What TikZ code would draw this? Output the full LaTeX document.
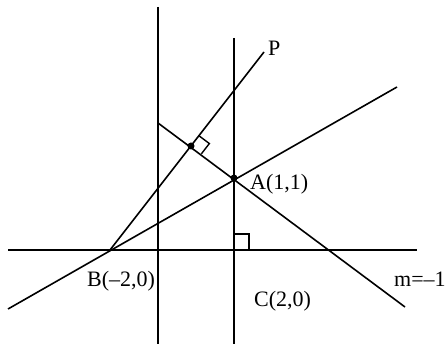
\documentclass[tikz,border=0pt]{standalone}
\usepackage{fontspec}
\setmainfont{Liberation Serif}
\usetikzlibrary{calc}
\begin{document}
\begin{tikzpicture}[x=1pt,y=-1pt,
  ln/.style={line width=1.6pt,line cap=butt},
  lbl/.style={inner sep=0pt,anchor=base west,font=\fontsize{22}{26}\selectfont},
  dotnode/.style={circle,fill=black,inner sep=0pt,minimum size=7pt}]
\useasboundingbox (0,0) rectangle (447,344);
\clip (0,0) rectangle (447,344);
% axes and vertical lines
\coordinate (xl) at (8,250);
\coordinate (xr) at (417,250);
\coordinate (v1t) at (158,7);
\coordinate (v1b) at (158,344);
\coordinate (v2t) at (234,38);
\coordinate (v2b) at (234,344);
% points
\coordinate (A) at (234,178);
\coordinate (B) at (110,250);
\coordinate (C) at (234,250);
\coordinate (F) at (191,146);
\coordinate (Pend) at (264,52);
\coordinate (L1s) at (8,309);
\coordinate (L1e) at (397,87);
\coordinate (L2s) at (158,123);
\coordinate (L2e) at (405,307);
\draw[ln] (xl) -- (xr);
\draw[ln] (v1t) -- (v1b);
\draw[ln] (v2t) -- (v2b);
\draw[ln] (L1s) -- (L1e);
\draw[ln] (L2s) -- (L2e);
\draw[ln] (B) -- (Pend);
% right angle at foot
\coordinate (u) at ($(F)!13pt!(Pend)$);
\coordinate (w) at ($(F)!13pt!(L2e)$);
\draw[line width=1.4pt] (u) -- ($(u)+(w)-(F)$) -- (w);
% right angle at C
\coordinate (c1) at (234,234);
\coordinate (c2) at (249,234);
\coordinate (c3) at (249,250);
\draw[line width=1.4pt] (c1) -- (c2) -- (c3);
% dots
\node[dotnode] (Fd) at (F) {};
\node[dotnode] (Ad) at (A) {};
% labels
\node[lbl] (Pl) at (268,56) {P};
\node[lbl] (Al) at (250,190) {A(1,1)};
\node[lbl] (Bl) at (87,287) {B(–2,0)};
\node[lbl] (Cl) at (254,307) {C(2,0)};
\node[lbl] (ml) at (394,287) {m=–1};
\end{tikzpicture}
\end{document}
